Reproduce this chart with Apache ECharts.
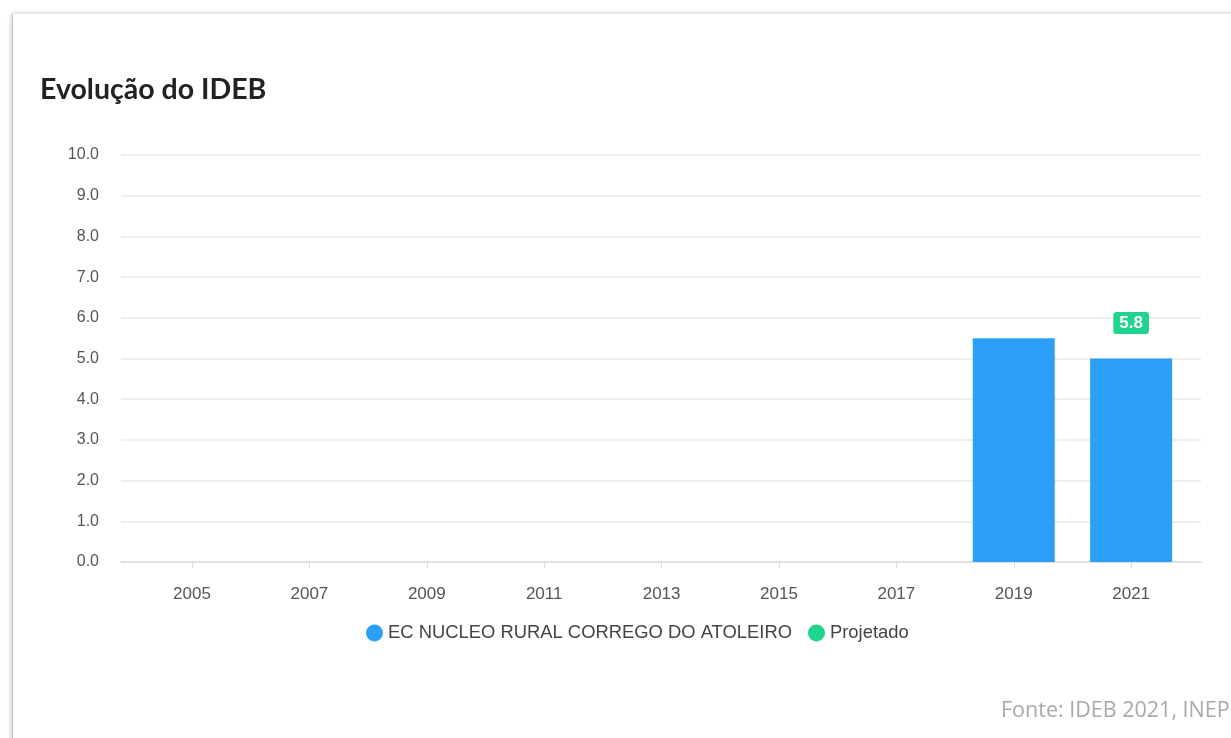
<!DOCTYPE html>
<html lang="pt">
<head>
    <meta charset="UTF-8">
    <title>Evolução do IDEB</title>
    <script src="https://cdn.jsdelivr.net/npm/echarts@6/dist/echarts.min.js"></script>
    <style>
        html, body { margin: 0; padding: 0; background: #fff; overflow: hidden; }
        #card {
            position: absolute; left: 12px; top: 14px; width: 1400px; height: 900px;
            background: #fff; border-left: 1px solid #c4c4c4;
            box-shadow: 0 0 5px rgba(0,0,0,0.28);
        }
        #main { position: absolute; left: 0; top: 0; width: 1231px; height: 738px; }
    </style>
</head>
<body>
<div id="card"></div>
<div id="main"></div>
<script>
    // anos do IDEB
    var anos = [2005, 2007, 2009, 2011, 2013, 2015, 2017, 2019, 2021];
    // nota da escola (null = sem nota)
    var ideb = [null, null, null, null, null, null, null, 5.5, 5.0];
    // meta projetada
    var projetado = [null, null, null, null, null, null, null, null, 5.8];
    var escola = 'EC NUCLEO RURAL CORREGO DO ATOLEIRO';

    function pares(vals) {
        var res = [];
        for (var i = 0; i < anos.length; i++) {
            if (vals[i] != null) res.push([anos[i], vals[i]]);
        }
        return res;
    }

    var myChart = echarts.init(document.getElementById('main'));

    var option = {
        animation: false,
        backgroundColor: 'transparent',
        title: {
            text: 'Evolução do IDEB',
            left: 35,
            top: 70,
            textStyle: {
                fontFamily: 'Lato, "Open Sans", sans-serif',
                fontWeight: 'bold',
                fontSize: 28.5,
                color: '#222'
            }
        },
        legend: {
            left: 361,
            top: 619,
            icon: 'circle',
            itemWidth: 17,
            itemHeight: 17,
            itemGap: 16,
            textStyle: { fontFamily: '"Liberation Sans", Arial', fontSize: 18.4, color: '#444' },
            data: [escola, 'Projetado']
        },
        grid: { left: 121, right: 30, top: 155, bottom: 176 },
        xAxis: {
            type: 'value',
            min: 2003.79,
            max: 2022.19,
            splitLine: { show: false },
            axisLine: { show: true, lineStyle: { color: '#dcdcdc', width: 1.5 } },
            axisTick: { show: true, customValues: anos, length: 6, lineStyle: { color: '#dcdcdc' } },
            axisLabel: {
                customValues: anos,
                margin: 24,
                fontFamily: '"Liberation Sans", Arial',
                fontSize: 17,
                color: '#555',
                formatter: function (v) { return String(Math.round(v)); }
            }
        },
        yAxis: {
            type: 'value',
            min: 0,
            max: 10,
            interval: 1,
            axisLine: { show: false },
            axisTick: { show: false },
            splitLine: { lineStyle: { color: '#e9e9e9', width: 1.5 } },
            axisLabel: {
                margin: 22,
                fontFamily: '"Liberation Sans", Arial',
                fontSize: 16,
                color: '#555',
                formatter: function (v) { return v.toFixed(1); }
            }
        },
        series: [
            {
                name: escola,
                type: 'bar',
                barWidth: 82,
                itemStyle: { color: '#2c9ff8' },
                data: pares(ideb)
            },
            {
                name: 'Projetado',
                type: 'scatter',
                symbolSize: 0,
                itemStyle: { color: '#1ed48e', opacity: 1 },
                label: {
                    show: true,
                    position: 'inside',
                    offset: [0, -3],
                    backgroundColor: '#1ed48e',
                    borderRadius: 3,
                    padding: [3, 6, 2, 6],
                    color: '#fff',
                    fontWeight: 'bold',
                    fontSize: 17,
                    fontFamily: '"Liberation Sans", Arial',
                    formatter: function (p) { return p.value[1].toFixed(1); }
                },
                data: pares(projetado)
            }
        ],
        graphic: [
            {
                type: 'text',
                left: 1001,
                top: 700,
                style: {
                    text: 'Fonte: IDEB 2021, INEP',
                    fontFamily: '"Open Sans", Lato, sans-serif',
                    fontSize: 21.5,
                    fill: '#a9a9a9'
                }
            }
        ]
    };

    myChart.setOption(option);
</script>
</body>
</html>
